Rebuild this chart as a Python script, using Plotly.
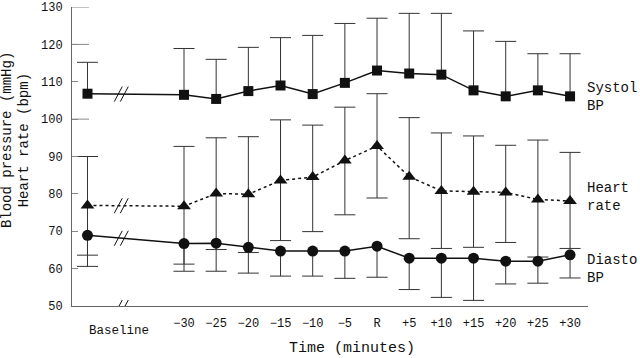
import plotly.graph_objects as go

# ---------------- data ----------------
time_labels = ["\u221230", "\u221225", "\u221220", "\u221215", "\u221210", "\u22125",
               "R", "+5", "+10", "+15", "+20", "+25", "+30"]
baseline_label = "Baseline"

systolic = [106.8, 106.5, 105.4, 107.5, 109.0, 106.7, 109.7, 113.0, 112.2, 111.9, 107.7, 106.1, 107.7, 106.1]
systolic_upper = [115.2, 118.9, 116.0, 119.2, 121.8, 122.4, 125.6, 127.0, 128.3, 128.3, 123.6, 120.8, 117.5, 117.5]

heart_rate = [76.9, 76.7, 80.1, 79.9, 83.6, 84.5, 88.9, 92.8, 84.6, 80.8, 80.6, 80.4, 78.5, 78.1]
heart_upper = [90.0, 92.7, 95.0, 95.3, 99.8, 98.4, 103.2, 106.8, 100.4, 96.3, 95.5, 93.0, 94.4, 91.1]
heart_lower = [63.6, 61.2, 65.1, 64.3, 67.5, 69.9, 74.4, 78.9, 68.0, 65.4, 65.7, 67.0, 63.1, 65.4]

diastolic = [68.9, 66.7, 66.8, 65.7, 64.7, 64.7, 64.7, 66.0, 62.8, 62.8, 62.8, 62.0, 62.0, 63.7]
diastolic_lower = [60.6, 59.3, 59.3, 58.8, 58.0, 58.0, 57.4, 57.7, 54.4, 52.3, 51.5, 55.9, 56.1, 57.5]

y_ticks = [50, 60, 70, 80, 90, 100, 110, 120, 130]
long_ticks = [100, 120, 130]

# ---------------- layout helpers ----------------
FONT = "Liberation Mono, Courier New, monospace"
INK = "#111"
BAR = "#333"
x_tick_pos = list(range(len(time_labels)))
x_pos = [-3] + x_tick_pos          # baseline sits three steps before -30
x_break = -1.95                    # axis-break position between baseline and -30

fig = go.Figure()


def add_errors(values, ends):
    xs, ys = [], []
    for x, v, e in zip(x_pos, values, ends):
        xs += [x, x, None]
        ys += [v, e, None]
    fig.add_trace(go.Scatter(x=xs, y=ys, mode="lines",
                             line=dict(color=BAR, width=1), hoverinfo="skip", showlegend=False))
    fig.add_trace(go.Scatter(x=x_pos, y=ends, mode="markers",
                             marker=dict(symbol="line-ew", size=15, line=dict(color=BAR, width=1)),
                             hoverinfo="skip", showlegend=False))


add_errors(systolic, systolic_upper)
add_errors(heart_rate, heart_upper)
add_errors(heart_rate, heart_lower)
add_errors(diastolic, diastolic_lower)

fig.add_trace(go.Scatter(x=x_pos, y=systolic, mode="lines+markers", name="Systolic BP",
                         line=dict(color=INK, width=1.5),
                         marker=dict(symbol="square", size=10, color=INK), showlegend=False))
fig.add_trace(go.Scatter(x=x_pos, y=heart_rate, mode="lines+markers", name="Heart rate",
                         line=dict(color=INK, width=1.5, dash="dot"),
                         marker=dict(symbol="triangle-up", size=12, color=INK), showlegend=False))
fig.add_trace(go.Scatter(x=x_pos, y=diastolic, mode="lines+markers", name="Diastolic BP",
                         line=dict(color=INK, width=1.5),
                         marker=dict(symbol="circle", size=11, color=INK), showlegend=False))

shapes = []
# long inner ticks
for v in long_ticks:
    shapes.append(dict(type="line", xref="paper", yref="y", x0=0, x1=17 / 516, y0=v, y1=v,
                       line=dict(color="#888", width=1)))


def slash_pair(yval):
    out = []
    for dx in (-3, 3):
        out.append(dict(type="line", xref="x", yref="y", xsizemode="pixel", ysizemode="pixel",
                        xanchor=x_break, yanchor=yval, x0=dx - 4, x1=dx + 4, y0=-7.5, y1=7.5,
                        line=dict(color=INK, width=1)))
    return out


frac = (x_break - x_pos[0]) / (x_pos[1] - x_pos[0])
for series in (systolic, heart_rate, diastolic):
    shapes += slash_pair(series[0] + frac * (series[1] - series[0]))
shapes += slash_pair(y_ticks[0] - 0.4)

annotations = [
    dict(text=baseline_label, x=x_pos[0], xref="x", xanchor="left", y=-0.082, yref="paper",
         yanchor="middle", showarrow=False, font=dict(family=FONT, size=12.5, color=INK)),
    dict(text="Time (minutes)", x=0.543, xref="paper", xanchor="center", y=-0.142, yref="paper",
         yanchor="middle", showarrow=False, font=dict(family=FONT, size=15, color=INK)),
    dict(text="Blood pressure (mmHg)", x=-0.1245, xref="paper", xanchor="center", y=0.554,
         yref="paper", yanchor="middle", textangle=-90, showarrow=False,
         font=dict(family=FONT, size=14, color=INK)),
    dict(text="Heart rate (bpm)", x=-0.093, xref="paper", xanchor="center", y=0.554,
         yref="paper", yanchor="middle", textangle=-90, showarrow=False,
         font=dict(family=FONT, size=14, color=INK)),
    dict(text="Systol<br>BP", x=1.0 - 3 / 516, xref="paper", xanchor="left", y=0.698, yref="paper",
         yanchor="middle", align="left", showarrow=False, font=dict(family=FONT, size=14, color=INK)),
    dict(text="Heart<br>rate", x=1.0 - 3 / 516, xref="paper", xanchor="left", y=0.364, yref="paper",
         yanchor="middle", align="left", showarrow=False, font=dict(family=FONT, size=14, color=INK)),
    dict(text="Diasto<br>BP", x=1.0 - 3 / 516, xref="paper", xanchor="left", y=0.123, yref="paper",
         yanchor="middle", align="left", showarrow=False, font=dict(family=FONT, size=14, color=INK)),
]

fig.update_layout(
    width=640, height=358,
    margin=dict(l=72, r=52, t=1, b=52),
    plot_bgcolor="white", paper_bgcolor="white",
    shapes=shapes, annotations=annotations,
    xaxis=dict(range=[-3.4816, 12.558], showline=True, linecolor="#666", linewidth=1,
               ticks="", tickvals=x_tick_pos, ticktext=time_labels, showgrid=False, zeroline=False,
               tickfont=dict(family=FONT, size=12, color=INK), ticklabelstandoff=6),
    yaxis=dict(range=[50, 130], tickvals=y_ticks, ticks="inside", ticklen=6, tickcolor="#888",
               showline=True, linecolor="#666", linewidth=1, showgrid=False, zeroline=False,
               tickfont=dict(family=FONT, size=12, color=INK), ticklabelstandoff=6,
               ticklabeloverflow="allow"),
)

fig.write_html("out.html", config={"displayModeBar": False},
               post_script="document.body.style.margin='0px';document.body.style.overflow='hidden';")
